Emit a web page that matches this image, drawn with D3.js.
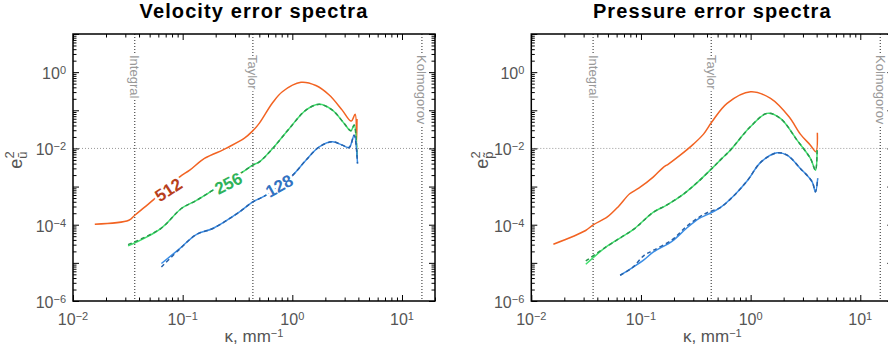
<!DOCTYPE html>
<html>
<head>
<meta charset="utf-8">
<script src="https://cdn.jsdelivr.net/npm/d3@7"></script>
<style>
  body { margin: 0; background: #fff; }
  svg { display: block; font-family: "Liberation Sans", Arial, sans-serif; }
</style>
</head>
<body>
<div id="chart"></div>
<script>
// characteristic wavenumbers (vertical markers)
const scaleNames = ['Integral', 'Taylor', 'Kolmogorov'];
const scaleK = [0.0366, 0.437, 15.2];

// tick labels
const xTicks = [1e-2, 1e-1, 1e0, 1e1];
const xTickExp = ['−2', '−1', '0', '1'];
const yTicks = [1e0, 1e-2, 1e-4, 1e-6];
const yTickExp = ['0', '−2', '−4', '−6'];

const resolutions = ['512', '256', '128'];

// velocity error spectra
const kU512 = [0.0158, 0.0323, 0.0366, 0.0501, 0.0686, 0.094, 0.116, 0.158, 0.231, 0.251, 0.366, 0.433, 0.501, 0.658, 0.811, 1.2, 1.64, 2.17, 2.85, 3.44, 3.74, 3.85, 3.89];
const eU512 = [1.03e-4, 1.31e-4, 1.77e-4, 3.73e-4, 8.05e-4, 1.80e-3, 2.69e-3, 5.47e-3, 9.0e-3, 1.02e-2, 1.86e-2, 2.84e-2, 4.61e-2, 0.155, 0.306, 0.54, 0.445, 0.251, 0.101, 0.052, 0.079, 0.0148, 0.059];

const kU256 = [0.0318, 0.0631, 0.0973, 0.131, 0.184, 0.255, 0.353, 0.436, 0.501, 0.662, 0.94, 1.33, 1.76, 2.32, 2.97, 3.42, 3.66, 3.89];
const eU256 = [2.78e-5, 7.94e-5, 2.66e-4, 4.22e-4, 7.67e-4, 1.39e-3, 2.43e-3, 3.65e-3, 4.45e-3, 1.0e-2, 3.35e-2, 0.101, 0.143, 0.101, 0.0453, 0.029, 0.0409, 5.9e-3];
const eU256d = [3.0e-5, 7.94e-5, 2.66e-4, 4.22e-4, 7.67e-4, 1.39e-3, 2.43e-3, 3.65e-3, 4.45e-3, 1.0e-2, 3.35e-2, 0.101, 0.143, 0.101, 0.0453, 0.029, 0.0409, 5.9e-3];

const kU128 = [0.064, 0.094, 0.133, 0.188, 0.33, 0.436, 0.577, 0.762, 1.01, 1.33, 1.76, 2.32, 2.86, 3.3, 3.66, 3.93];
const eU128 = [9.6e-6, 2.37e-5, 5.53e-5, 7.94e-5, 2.17e-4, 3.96e-4, 5.94e-4, 1.09e-3, 2.0e-3, 4.93e-3, 1.1e-2, 1.49e-2, 1.22e-2, 1.06e-2, 2.23e-2, 4.04e-3];
const eU128d = [7.8e-6, 2.3e-5, 5.53e-5, 7.94e-5, 2.17e-4, 3.96e-4, 5.94e-4, 1.09e-3, 2.0e-3, 4.93e-3, 1.1e-2, 1.49e-2, 1.22e-2, 1.06e-2, 2.23e-2, 4.04e-3];

// pressure error spectra
const kP512 = [0.0159, 0.0313, 0.0367, 0.0494, 0.0627, 0.0789, 0.0955, 0.13, 0.16, 0.178, 0.228, 0.301, 0.372, 0.444, 0.61, 1.0, 1.52, 2.24, 2.84, 3.51, 3.94, 4.06];
const eP512 = [3.08e-5, 7.05e-5, 9.93e-5, 1.6e-4, 3.06e-4, 6.47e-4, 9.08e-4, 1.8e-3, 3.2e-3, 3.9e-3, 6.67e-3, 1.3e-2, 2.37e-2, 4.99e-2, 0.152, 0.306, 0.205, 0.0675, 0.0237, 0.0122, 8.24e-3, 2.56e-2];

const kP256 = [0.0314, 0.0481, 0.0655, 0.0875, 0.129, 0.173, 0.246, 0.331, 0.459, 0.528, 0.653, 0.993, 1.41, 1.87, 2.65, 3.51, 3.9, 4.04];
const eP256 = [9.18e-6, 2.61e-5, 4.61e-5, 7.94e-5, 2.1e-4, 3.31e-4, 6.47e-4, 1.33e-3, 3.29e-3, 4.93e-3, 9.02e-3, 3.69e-2, 8.3e-2, 6.12e-2, 1.65e-2, 5.47e-3, 2.69e-3, 9.02e-3];
const eP256d = [1.12e-5, 2.61e-5, 4.61e-5, 7.94e-5, 2.1e-4, 3.31e-4, 6.47e-4, 1.33e-3, 3.29e-3, 4.93e-3, 9.02e-3, 3.69e-2, 8.3e-2, 6.12e-2, 1.65e-2, 5.47e-3, 2.69e-3, 9.02e-3];

const kP128 = [0.0646, 0.0836, 0.107, 0.13, 0.193, 0.259, 0.34, 0.411, 0.528, 0.71, 0.94, 1.24, 1.74, 2.15, 2.84, 3.64, 3.9, 4.09];
const eP128 = [4.73e-6, 7.53e-6, 1.22e-5, 1.93e-5, 3.73e-5, 7.94e-5, 1.46e-4, 1.89e-4, 2.82e-4, 5.94e-4, 1.47e-3, 4.37e-3, 7.67e-3, 6.67e-3, 2.99e-3, 1.33e-3, 7.26e-4, 1.63e-3];
const eP128d = [4.73e-6, 7.53e-6, 1.58e-5, 2.14e-5, 4.04e-5, 8.9e-5, 1.58e-4, 2.14e-4, 2.82e-4, 5.94e-4, 1.47e-3, 4.37e-3, 7.67e-3, 6.67e-3, 2.99e-3, 1.33e-3, 7.26e-4, 1.63e-3];

// where the resolution labels sit on the velocity plot (kappa, e)
const labelK = [0.0747, 0.262, 0.762];
const labelE = [8.05e-4, 1.19e-3, 1.02e-3];

const colOrange = '#f26322';
const colGreen = '#3fe06c', colGreenD = '#2a9a4e';
const colBlue = '#3b8ee6', colBlueD = '#2862aa';
const labelColors = ['#b8401c', '#2fb35a', '#3272c2'];
const labelAngles = [-33, -27, -29];

const width = 888, height = 360;
const plotW = 362, plotH = 267, plotTop = 34;

const svg = d3.select('#chart').append('svg')
    .attr('width', width)
    .attr('height', height);

function zip(k, e) { return k.map((v, i) => [v, e[i]]); }

function drawPanel(left, title, subChar, yLabelX, series, withLabels) {
    const g = svg.append('g').attr('transform', `translate(${left},${plotTop})`);
    const x = d3.scaleLog().domain([0.01, 20]).range([0, plotW]);
    const y = d3.scaleLog().domain([1e-6, 10]).range([plotH, 0]);

    // title
    svg.append('text')
        .attr('x', left + plotW / 2).attr('y', 18)
        .attr('text-anchor', 'middle')
        .attr('font-size', 20).attr('font-weight', 'bold')
        .attr('letter-spacing', 1.1)
        .attr('fill', '#000')
        .text(title);

    // horizontal dotted grid at 1e-2
    g.append('line')
        .attr('x1', 0).attr('x2', plotW)
        .attr('y1', y(1e-2)).attr('y2', y(1e-2))
        .attr('stroke', '#999').attr('stroke-width', 1)
        .attr('stroke-dasharray', '1,2');

    // vertical markers
    g.selectAll('.kline').data(scaleK).enter().append('line')
        .attr('x1', d => x(d)).attr('x2', d => x(d))
        .attr('y1', 0).attr('y2', plotH)
        .attr('stroke', '#222').attr('stroke-width', 1)
        .attr('stroke-dasharray', '1,2');

    g.selectAll('.klabel').data(scaleK).enter().append('text')
        .attr('transform', d => `translate(${x(d)},21) rotate(90)`)
        .attr('dominant-baseline', 'central')
        .attr('font-size', 13)
        .attr('fill', '#999')
        .attr('stroke', '#fff').attr('stroke-width', 4)
        .attr('paint-order', 'stroke')
        .text((d, i) => scaleNames[i]);

    // curves
    const line = d3.line()
        .x(d => x(d[0]))
        .y(d => y(d[1]))
        .curve(d3.curveCatmullRom.alpha(0.5));

    series.forEach(s => {
        g.append('path')
            .attr('d', line(zip(s.k, s.e)))
            .attr('fill', 'none')
            .attr('stroke', s.color)
            .attr('stroke-width', 1.5)
            .attr('stroke-dasharray', s.dash || null);
    });

    if (withLabels) {
        resolutions.forEach((r, i) => {
            g.append('text')
                .attr('transform', `translate(${x(labelK[i])},${y(labelE[i])}) rotate(${labelAngles[i]})`)
                .attr('text-anchor', 'middle')
                .attr('dominant-baseline', 'central')
                .attr('font-size', 17).attr('font-weight', 'bold')
                .attr('fill', labelColors[i])
                .attr('stroke', '#fff').attr('stroke-width', 5)
                .attr('paint-order', 'stroke')
                .text(r);
        });
    }

    // ticks on all four sides, pointing inwards
    const xMinor = x.ticks().filter(v => !xTicks.includes(v));
    const yMajor = d3.range(-6, 2).map(p => Math.pow(10, p));
    const yMinor = y.ticks().filter(v => Math.abs(Math.log10(v) - Math.round(Math.log10(v))) > 1e-6);

    const axes = [
        [d3.axisBottom(x), `translate(0,${plotH})`, xTicks, xMinor],
        [d3.axisTop(x), 'translate(0,0)', xTicks, xMinor],
        [d3.axisLeft(y), 'translate(0,0)', yMajor, yMinor],
        [d3.axisRight(y), `translate(${plotW},0)`, yMajor, yMinor]
    ];
    axes.forEach(([ax, tr, major, minor]) => {
        g.append('g').attr('transform', tr)
            .call(ax.tickValues(major).tickSize(-6).tickFormat(''))
            .call(a => a.select('.domain').remove())
            .selectAll('line').attr('stroke', '#000');
        g.append('g').attr('transform', tr)
            .call(ax.tickValues(minor).tickSize(-3.5).tickFormat(''))
            .call(a => a.select('.domain').remove())
            .selectAll('line').attr('stroke', '#000');
    });

    g.append('rect')
        .attr('width', plotW).attr('height', plotH)
        .attr('fill', 'none')
        .attr('stroke', '#000').attr('stroke-width', 1.5);

    // tick labels
    const xl = g.selectAll('.xl').data(xTicks).enter().append('text')
        .attr('x', d => x(d)).attr('y', plotH + 24)
        .attr('text-anchor', 'middle')
        .attr('font-size', 16).attr('fill', '#555')
        .text('10');
    xl.append('tspan').attr('dy', '-0.45em').attr('font-size', 11)
        .text((d, i) => xTickExp[i]);

    const yl = g.selectAll('.yl').data(yTicks).enter().append('text')
        .attr('x', -7).attr('y', d => y(d) + 7)
        .attr('text-anchor', 'end')
        .attr('font-size', 16).attr('fill', '#555')
        .text('10');
    yl.append('tspan').attr('dy', '-0.45em').attr('font-size', 11)
        .text((d, i) => yTickExp[i]);

    // axis labels
    const xt = svg.append('text')
        .attr('x', left + plotW / 2).attr('y', 342)
        .attr('text-anchor', 'middle')
        .attr('font-size', 17).attr('fill', '#555')
        .text('κ, mm');
    xt.append('tspan').attr('dy', '-0.45em').attr('font-size', 11).text('−1');

    const yt = svg.append('text')
        .attr('transform', `translate(${yLabelX},160) rotate(-90)`)
        .attr('text-anchor', 'middle')
        .attr('font-size', 18).attr('fill', '#555')
        .text('e');
    yt.append('tspan').attr('dy', 5).attr('font-size', 13).text(subChar);
    yt.append('tspan').attr('dx', -7).attr('dy', -13).attr('font-size', 13).text('2');
}

drawPanel(73, 'Velocity error spectra', 'ũ', 22, [
    { k: kU512, e: eU512, color: colOrange },
    { k: kU256, e: eU256, color: colGreen },
    { k: kU256, e: eU256d, color: colGreenD, dash: '4,3' },
    { k: kU128, e: eU128, color: colBlue },
    { k: kU128, e: eU128d, color: colBlueD, dash: '4,3' }
], true);

drawPanel(531.3, 'Pressure error spectra', 'p\u0303', 488, [
    { k: kP512, e: eP512, color: colOrange },
    { k: kP256, e: eP256, color: colGreen },
    { k: kP256, e: eP256d, color: colGreenD, dash: '4,3' },
    { k: kP128, e: eP128, color: colBlue },
    { k: kP128, e: eP128d, color: colBlueD, dash: '4,3' }
], false);
</script>
</body>
</html>
